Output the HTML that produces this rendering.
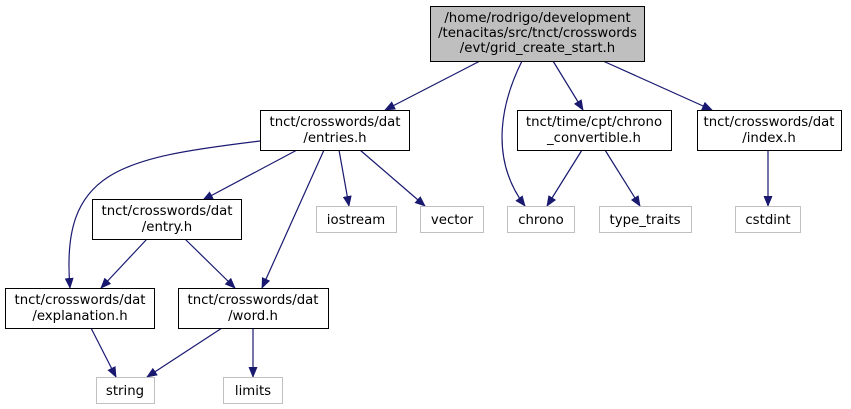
<!DOCTYPE html>
<html><head><meta charset="utf-8"><style>
body{margin:0;background:#fff;}
svg{display:block;}
text{font-family:"DejaVu Sans","Liberation Sans",sans-serif;font-size:13.3px;fill:#000;}
</style></head><body>
<svg width="851" height="409" viewBox="0 0 851 409" xmlns="http://www.w3.org/2000/svg">
<defs><marker id="a" markerWidth="11" markerHeight="9" refX="10" refY="4.5" orient="auto" markerUnits="userSpaceOnUse"><path d="M0,0 L11,4.5 L0,9 Z" fill="#191970"/></marker></defs>
<g stroke="#191970" stroke-width="1.2" fill="none" marker-end="url(#a)">
<path d="M480,61 L385,110"/>
<path d="M522,61 C500,105 490,160 525,206"/>
<path d="M553,61 L583,110"/>
<path d="M603,61 L712,110"/>
<path d="M260,141 C120,158 60,170 70,288"/>
<path d="M297,150 L203,200"/>
<path d="M324,150 L262,288"/>
<path d="M339,150 L349,206"/>
<path d="M360,150 L425,206"/>
<path d="M582,150 L547,206"/>
<path d="M605,150 L640,206"/>
<path d="M768,150 L768,206"/>
<path d="M147,239 L101,288"/>
<path d="M185,239 L235,288"/>
<path d="M91,328 L116,377"/>
<path d="M222,328 L147,377"/>
<path d="M253,328 L253,377"/>
</g>
<rect x="430.5" y="6.5" width="214" height="55" fill="#bfbfbf" stroke="#000"/>
<text x="537.5" y="22" text-anchor="middle">/home/rodrigo/development</text>
<text x="537.5" y="37" text-anchor="middle">/tenacitas/src/tnct/crosswords</text>
<text x="537.5" y="52" text-anchor="middle">/evt/grid_create_start.h</text>
<g fill="#fff" stroke="#000">
<rect x="260.5" y="110.5" width="149" height="40"/>
<rect x="517.5" y="110.5" width="154" height="40"/>
<rect x="697.5" y="110.5" width="144" height="40"/>
<rect x="92.5" y="199.5" width="149" height="40"/>
<rect x="5.5" y="288.5" width="149" height="40"/>
<rect x="178.5" y="288.5" width="150" height="40"/>
</g>
<g fill="#fff" stroke="#c0c0c0">
<rect x="316.5" y="206.5" width="80" height="26"/>
<rect x="420.5" y="206.5" width="63" height="26"/>
<rect x="507.5" y="206.5" width="67" height="26"/>
<rect x="599.5" y="206.5" width="92" height="26"/>
<rect x="735.5" y="206.5" width="65" height="26"/>
<rect x="96.5" y="377.5" width="58" height="26"/>
<rect x="223.5" y="377.5" width="59" height="26"/>
</g>
<g text-anchor="middle">
<text x="335" y="126">tnct/crosswords/dat</text><text x="335" y="142">/entries.h</text>
<text x="594" y="126">tnct/time/cpt/chrono</text><text x="594" y="142">_convertible.h</text>
<text x="769" y="126">tnct/crosswords/dat</text><text x="769" y="142">/index.h</text>
<text x="167" y="215">tnct/crosswords/dat</text><text x="167" y="231">/entry.h</text>
<text x="80" y="304">tnct/crosswords/dat</text><text x="80" y="320">/explanation.h</text>
<text x="253" y="304">tnct/crosswords/dat</text><text x="253" y="320">/word.h</text>
<text x="356" y="224">iostream</text>
<text x="452" y="224">vector</text>
<text x="541" y="224">chrono</text>
<text x="645" y="224">type_traits</text>
<text x="768" y="224">cstdint</text>
<text x="125" y="395">string</text>
<text x="253" y="395">limits</text>
</g>
</svg>
</body></html>
